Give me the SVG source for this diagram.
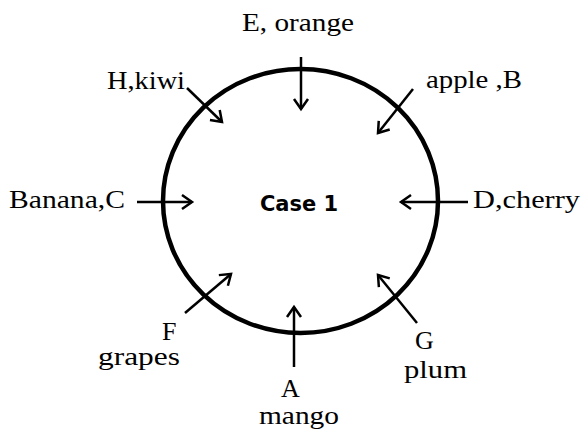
<svg xmlns="http://www.w3.org/2000/svg" width="582" height="432" viewBox="0 0 582 432">
<defs>
<style>
.lbl{font-family:"Liberation Serif","Times New Roman",serif;font-size:26px;fill:#000}
.case{font-family:"DejaVu Sans","Liberation Sans",sans-serif;font-weight:bold;font-size:21px;fill:#000}
.arr{stroke:#000;stroke-width:2.5;fill:none;marker-end:url(#ah)}
</style>
<marker id="ah" markerUnits="userSpaceOnUse" markerWidth="24" markerHeight="24" viewBox="-12 -12 24 24" refX="0" refY="0" orient="auto">
<path d="M-10,-7 L0,0 L-10,7" fill="none" stroke="#000" stroke-width="2.5"/>
</marker>
</defs>
<rect width="582" height="432" fill="#fff"/>
<g id="circle">
<ellipse cx="300.5" cy="201" rx="137.5" ry="132" fill="none" stroke="#000" stroke-width="4.5"/>
<text class="case" x="299" y="211" text-anchor="middle">Case 1</text>
</g>
<g id="connectors">
<line class="arr" x1="301" y1="57" x2="301" y2="109"/>
<line class="arr" x1="294" y1="367" x2="294" y2="307"/>
<line class="arr" x1="137" y1="202" x2="192" y2="202"/>
<line class="arr" x1="468" y1="202" x2="401" y2="202"/>
<line class="arr" x1="187" y1="88" x2="222" y2="122"/>
<line class="arr" x1="413" y1="89" x2="378" y2="133"/>
<line class="arr" x1="185" y1="313" x2="231" y2="274"/>
<line class="arr" x1="417" y1="323" x2="378" y2="275"/>
</g>
<g id="E"><text class="lbl" x="242" y="31" textLength="112" lengthAdjust="spacingAndGlyphs">E, orange</text></g>
<g id="H"><text class="lbl" x="107" y="89" textLength="78" lengthAdjust="spacingAndGlyphs">H,kiwi</text></g>
<g id="B"><text class="lbl" x="426" y="88" textLength="96" lengthAdjust="spacingAndGlyphs">apple ,B</text></g>
<g id="C"><text class="lbl" x="9" y="208" textLength="116" lengthAdjust="spacingAndGlyphs">Banana,C</text></g>
<g id="D"><text class="lbl" x="473" y="208" textLength="107" lengthAdjust="spacingAndGlyphs">D,cherry</text></g>
<g id="F"><text class="lbl" x="162" y="340">F</text><text class="lbl" x="98" y="365" textLength="82" lengthAdjust="spacingAndGlyphs">grapes</text></g>
<g id="G"><text class="lbl" x="415" y="349">G</text><text class="lbl" x="404" y="378" textLength="63" lengthAdjust="spacingAndGlyphs">plum</text></g>
<g id="A"><text class="lbl" x="281" y="397">A</text><text class="lbl" x="259" y="424" textLength="80" lengthAdjust="spacingAndGlyphs">mango</text></g>
</svg>
